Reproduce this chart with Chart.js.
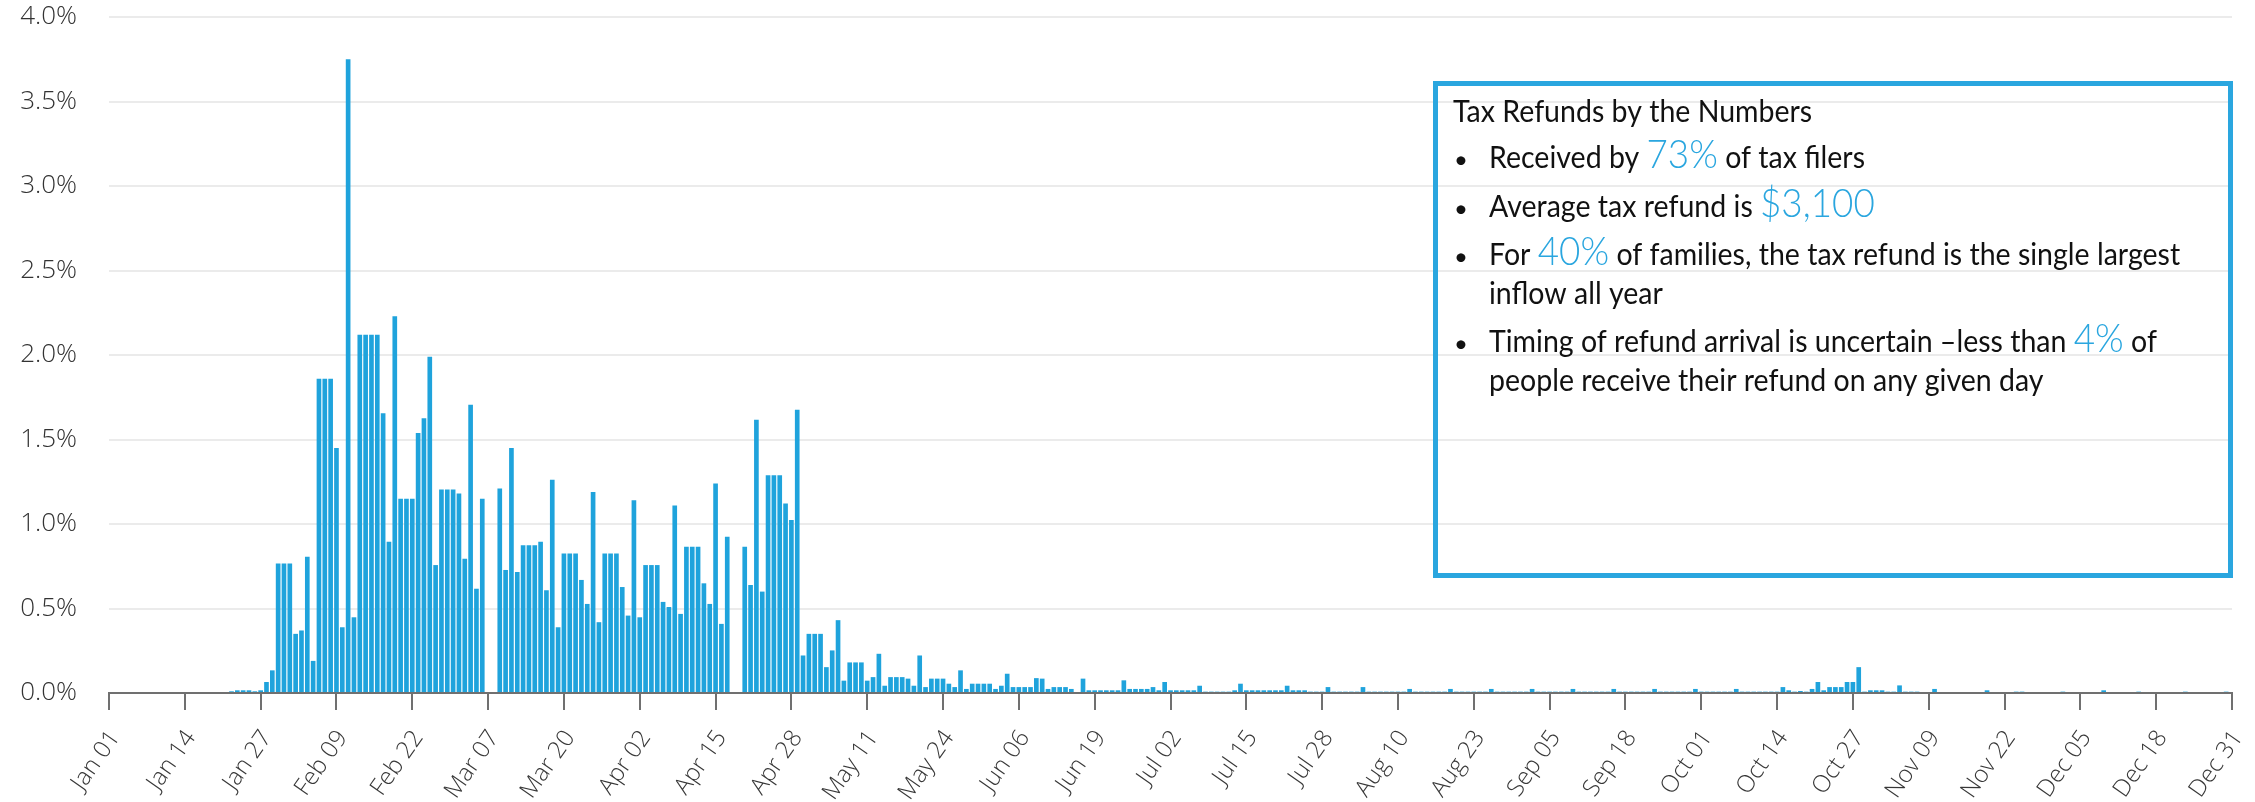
<!DOCTYPE html>
<html>
<head>
<meta charset="utf-8">
<title>Tax refunds by day of arrival</title>
<script src="https://cdn.jsdelivr.net/npm/chart.js@4.4.1/dist/chart.umd.min.js"></script>
<style>
  html, body { margin: 0; padding: 0; background: #fff; }
  #wrap { position: relative; width: 2255px; height: 802px; }
</style>
</head>
<body>
<div id="wrap"><canvas id="refundChart"></canvas></div>
<script>
// share of all refunds (%) landing on each day of the year, one list per month
const jan = [0, 0, 0, 0, 0, 0, 0, 0, 0.006, 0.006, 0.006, 0, 0, 0, 0, 0, 0, 0, 0, 0, 0,
  0.01, 0.016, 0.016, 0.016, 0.01, 0.016, 0.065, 0.134, 0.767, 0.767];
const feb = [0.767, 0.35, 0.37, 0.806, 0.19, 1.86, 1.86, 1.86, 1.449, 0.389, 3.75, 0.448,
  2.12, 2.12, 2.12, 2.12, 1.656, 0.895, 2.23, 1.15, 1.15, 1.15, 1.538, 1.626, 1.99, 0.757,
  1.204, 1.204];
const mar = [1.204, 1.18, 0.795, 1.705, 0.617, 1.15, 0, 0, 1.21, 0.728, 1.449, 0.716, 0.875,
  0.875, 0.875, 0.895, 0.608, 1.262, 0.389, 0.826, 0.826, 0.826, 0.669, 0.527, 1.19, 0.419,
  0.826, 0.826, 0.826, 0.627, 0.458];
const apr = [1.14, 0.448, 0.757, 0.757, 0.757, 0.539, 0.509, 1.11, 0.468, 0.865, 0.865, 0.865,
  0.649, 0.527, 1.239, 0.409, 0.924, 0, 0, 0.865, 0.639, 1.617, 0.6, 1.288, 1.288, 1.288,
  1.121, 1.023, 1.676, 0.222];
const may = [0.35, 0.35, 0.35, 0.153, 0.252, 0.431, 0.073, 0.181, 0.181, 0.181, 0.073, 0.094,
  0.232, 0.043, 0.094, 0.094, 0.094, 0.085, 0.043, 0.222, 0.035, 0.085, 0.085, 0.085, 0.055,
  0.035, 0.134, 0.024, 0.055, 0.055, 0.055];
const jun = [0.055, 0.024, 0.043, 0.114, 0.035, 0.035, 0.035, 0.035, 0.088, 0.085, 0.024,
  0.035, 0.035, 0.035, 0.024, 0, 0.085, 0.016, 0.016, 0.016, 0.016, 0.016, 0.016, 0.075,
  0.024, 0.024, 0.024, 0.024, 0.035, 0.016];
const jul = [0.065, 0.016, 0.016, 0.016, 0.016, 0.016, 0.043, 0.008, 0.008, 0.008, 0.008,
  0.008, 0.016, 0.055, 0.016, 0.016, 0.016, 0.016, 0.016, 0.016, 0.016, 0.043, 0.016, 0.016,
  0.016, 0.008, 0.008, 0.008, 0.035, 0.008, 0.008];
const aug = [0.008, 0.008, 0.008, 0.035, 0.008, 0.008, 0.008, 0.008, 0.008, 0.008, 0.008,
  0.024, 0.008, 0.008, 0.008, 0.008, 0.008, 0.008, 0.024, 0.008, 0.008, 0.008, 0.008, 0.008,
  0.008, 0.024, 0.008, 0.008, 0.008, 0.008, 0.008];
const sep = [0.008, 0.024, 0.008, 0.008, 0.008, 0.008, 0.008, 0.008, 0.024, 0.008, 0.008,
  0.008, 0.008, 0.008, 0.008, 0.024, 0.008, 0.008, 0.008, 0.008, 0.008, 0.008, 0.024, 0.008,
  0.008, 0.008, 0.008, 0.008, 0.008, 0.024];
const oct = [0.008, 0.008, 0.008, 0.008, 0.008, 0.008, 0.024, 0.008, 0.008, 0.008, 0.008,
  0.008, 0.008, 0.008, 0.035, 0.016, 0.008, 0.012, 0.008, 0.024, 0.065, 0.016, 0.035, 0.035,
  0.035, 0.065, 0.065, 0.153, 0.008, 0.016, 0.016];
const nov = [0.016, 0.008, 0.008, 0.045, 0.008, 0.008, 0.008, 0, 0, 0.024, 0, 0, 0, 0, 0, 0,
  0, 0, 0.016, 0, 0, 0, 0, 0.008, 0.008, 0, 0, 0, 0, 0];
const dec = [0, 0.008, 0, 0, 0, 0, 0, 0, 0.016, 0, 0, 0, 0, 0, 0.008, 0, 0, 0, 0, 0, 0, 0,
  0.008, 0, 0, 0, 0, 0, 0, 0.008, 0];

// x-axis labels, one every 13 days from Jan 01 to Dec 31
const tickLabels = ['Jan 01', 'Jan 14', 'Jan 27', 'Feb 09', 'Feb 22', 'Mar 07', 'Mar 20',
  'Apr 02', 'Apr 15', 'Apr 28', 'May 11', 'May 24', 'Jun 06', 'Jun 19', 'Jul 02', 'Jul 15',
  'Jul 28', 'Aug 10', 'Aug 23', 'Sep 05', 'Sep 18', 'Oct 01', 'Oct 14', 'Oct 27', 'Nov 09',
  'Nov 22', 'Dec 05', 'Dec 18', 'Dec 31'];
const tickEvery = 13;

const yTicks = [0, 0.5, 1, 1.5, 2, 2.5, 3, 3.5, 4];

const dailyShare = [].concat(jan, feb, mar, apr, may, jun, jul, aug, sep, oct, nov, dec);

const barBlue = "#1fa3dc";
const noteBlue = "#2aa6df";

// side note: [text, highlighted]
const noteTitle = "Tax Refunds by the Numbers";
const noteBullets = [
  [[["Received by ", false], ["73%", true], [" of tax filers", false]]],
  [[["Average tax refund is ", false], ["$3,100", true]]],
  [
    [["For ", false], ["40%", true], [" of families, the tax refund is the single largest", false]],
    [["inflow all year", false]],
  ],
  [
    [["Timing of refund arrival is uncertain \u2013less than ", false], ["4%", true], [" of", false]],
    [["people receive their refund on any given day", false]],
  ],
];

// draws one run of text squeezed horizontally, returns its advance
const drawRun = (ctx, text, x, y, squeeze) => {
  ctx.save();
  ctx.translate(x, y);
  ctx.scale(squeeze, 1);
  ctx.fillText(text, 0, 0);
  ctx.restore();
  return ctx.measureText(text).width * squeeze;
};

const notePlugin = {
  id: "refundNote",
  afterDraw: (chart) => {
    const ctx = chart.ctx;
    const box = { left: 1433, top: 81, right: 2233, bottom: 578, line: 5 };
    const textX = 1489;
    const bulletX = 1454;
    const baselines = [[168], [217], [265, 304], [352, 391]];
    const plainFont = "31px Lato";
    const bigFont = "300 40px Lato";
    const squeeze = 0.92;

    ctx.save();
    ctx.strokeStyle = noteBlue;
    ctx.lineWidth = box.line;
    ctx.strokeRect(
      box.left + box.line / 2,
      box.top + box.line / 2,
      box.right - box.left - box.line,
      box.bottom - box.top - box.line
    );

    ctx.textBaseline = "alphabetic";
    ctx.textAlign = "left";
    ctx.fillStyle = "#111";
    ctx.font = plainFont;
    drawRun(ctx, noteTitle, 1453, 122, squeeze);

    noteBullets.forEach((lines, b) => {
      ctx.font = "24px Lato";
      ctx.fillStyle = "#111";
      ctx.fillText("\u2022", bulletX, baselines[b][0]);
      lines.forEach((runs, l) => {
        let x = textX;
        runs.forEach(([text, big]) => {
          ctx.font = big ? bigFont : plainFont;
          ctx.fillStyle = big ? noteBlue : "#111";
          x += drawRun(ctx, text, x, baselines[b][l], squeeze);
        });
      });
    });
    ctx.restore();
  },
};

const refundChart = new Chart(document.getElementById("refundChart"), {
  type: "bar",
  data: {
    datasets: [
      {
        data: dailyShare.map((v, i) => ({ x: i, y: v })),
        backgroundColor: barBlue,
        borderWidth: 0,
        barPercentage: 0.8,
        categoryPercentage: 1,
      },
    ],
  },
  options: {
    responsive: true,
    maintainAspectRatio: false,
    animation: false,
    layout: { padding: { top: 17, right: 23, left: 0, bottom: 0 } },
    plugins: { legend: { display: false }, tooltip: { enabled: false } },
    scales: {
      x: {
        type: "linear",
        min: 0,
        max: dailyShare.length - 1,
        offset: false,
        z: 1,
        grid: {
          offset: false,
          drawOnChartArea: false,
          color: "#707070",
          lineWidth: 2,
          tickLength: 17,
        },
        border: { display: true, color: "#707070", width: 2 },
        afterBuildTicks: (scale) => {
          scale.ticks = tickLabels.map((_, i) => ({ value: i * tickEvery }));
        },
        ticks: {
          autoSkip: false,
          maxRotation: 55,
          minRotation: 55,
          padding: 15,
          labelOffset: 6,
          color: "#383838",
          font: { family: "Open Sans", size: 24, weight: "300" },
          callback: (value, index) => tickLabels[index],
        },
        afterFit: (scale) => {
          scale.height = 109;
          scale.paddingLeft = 0;
          scale.paddingRight = 0;
        },
      },
      y: {
        min: 0,
        max: 4,
        grid: {
          drawTicks: false,
          lineWidth: 2,
          color: (c) => (c.tick && c.tick.value === 0 ? "rgba(0,0,0,0)" : "#ebebeb"),
        },
        border: { display: false },
        afterBuildTicks: (scale) => {
          scale.ticks = yTicks.map((v) => ({ value: v }));
        },
        ticks: {
          padding: 32,
          color: "#333",
          font: { family: "Open Sans", size: 26, weight: "300" },
          callback: (value) => value.toFixed(1) + "%",
        },
        afterFit: (scale) => {
          scale.width = 109;
          scale.paddingTop = 0;
          scale.paddingBottom = 0;
        },
      },
    },
  },
  plugins: [notePlugin],
});
</script>
</body>
</html>
